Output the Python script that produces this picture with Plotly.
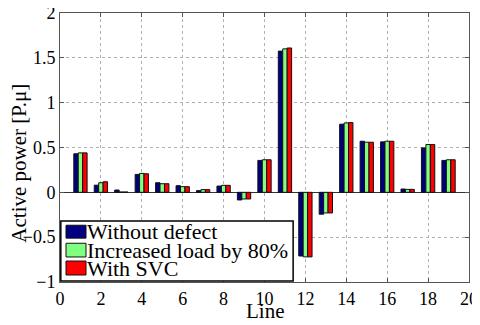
import plotly.graph_objects as go

# data
lines = list(range(1, 20))
without_defect = [0.43, 0.08, 0.026, 0.20, 0.107, 0.074, 0.019, 0.07, -0.085, 0.356,
                  1.575, -0.71, -0.244, 0.76, 0.57, 0.563, 0.037, 0.496, 0.356]
increased_load = [0.44, 0.107, 0.004, 0.211, 0.096, 0.063, 0.03, 0.078, -0.074, 0.363,
                  1.60, -0.72, -0.23, 0.774, 0.559, 0.57, 0.033, 0.533, 0.363]
with_svc = [0.44, 0.118, 0.004, 0.207, 0.096, 0.063, 0.03, 0.078, -0.074, 0.363,
            1.61, -0.72, -0.23, 0.778, 0.559, 0.57, 0.033, 0.533, 0.363]

series_names = ["Without defect", "Increased load by 80%", "With SVC"]
colors = ["#000080", "#80FF80", "#FF0000"]

FONT = "Liberation Serif, Times New Roman, serif"
EDGE = "#111111"

fig = go.Figure()
for name, vals, color in zip(series_names, [without_defect, increased_load, with_svc], colors):
    fig.add_trace(
        go.Bar(
            x=lines,
            y=vals,
            name=name,
            marker=dict(color=color, line=dict(color=EDGE, width=1)),
        )
    )

# hand-drawn legend box in the lower left (matlab style, large swatches)
fig.add_shape(type="rect", xref="x domain", yref="y domain",
              x0=0.002, x1=0.570, y0=0.004, y1=0.227,
              fillcolor="white", line=dict(color="black", width=1.5), layer="above")
row_y = [(0.163, 0.211), (0.093, 0.144), (0.026, 0.078)]
for name, color, (y0, y1) in zip(series_names, colors, row_y):
    fig.add_shape(type="rect", xref="x domain", yref="y domain",
                  x0=0.0147, x1=0.0636, y0=y0, y1=y1,
                  fillcolor=color, line=dict(color=EDGE, width=1), layer="above")
    fig.add_annotation(xref="x domain", yref="y domain",
                       x=0.062, y=(y0 + y1) / 2, xanchor="left", yanchor="middle",
                       text=name, showarrow=False,
                       font=dict(family=FONT, size=22, color="black"))

# axis titles
fig.add_annotation(xref="x domain", yref="y domain", x=0.5, xanchor="center",
                   y=0, yanchor="middle", yshift=-29,
                   text="Line", showarrow=False,
                   font=dict(family=FONT, size=21, color="black"))
fig.add_annotation(xref="x domain", yref="y domain", x=0, xanchor="center",
                   xshift=-41, y=0.44, yanchor="middle",
                   text="Active power [P.μ]", textangle=-90, showarrow=False,
                   font=dict(family=FONT, size=21, color="black"))

# page body keeps its default 8px margin, so the figure is shifted by 8px
fig.update_layout(
    width=472,
    height=317,
    margin=dict(l=52, r=11, t=5, b=43),
    paper_bgcolor="white",
    plot_bgcolor="white",
    barmode="group",
    bargap=0.35,
    bargroupgap=0,
    font=dict(family=FONT, size=18, color="black"),
    showlegend=False,
    xaxis=dict(
        range=[0, 20], tickmode="linear", tick0=0, dtick=2,
        showgrid=True, gridcolor="#b0b0b0", griddash="dot", gridwidth=1,
        showline=True, linecolor="#555555", mirror="ticks",
        ticks="inside", ticklen=4, tickcolor="#555555",
        zeroline=False, automargin=False, ticklabeloverflow="allow",
    ),
    yaxis=dict(
        range=[-1, 2], tickmode="linear", tick0=-1, dtick=0.5,
        showgrid=True, gridcolor="#b0b0b0", griddash="dot", gridwidth=1,
        showline=True, linecolor="#555555", mirror="ticks",
        ticks="inside", ticklen=4, tickcolor="#555555",
        zeroline=True, zerolinecolor="#333333", zerolinewidth=1,
        automargin=False, ticklabeloverflow="allow",
    ),
)

fig.write_html("out.html")
